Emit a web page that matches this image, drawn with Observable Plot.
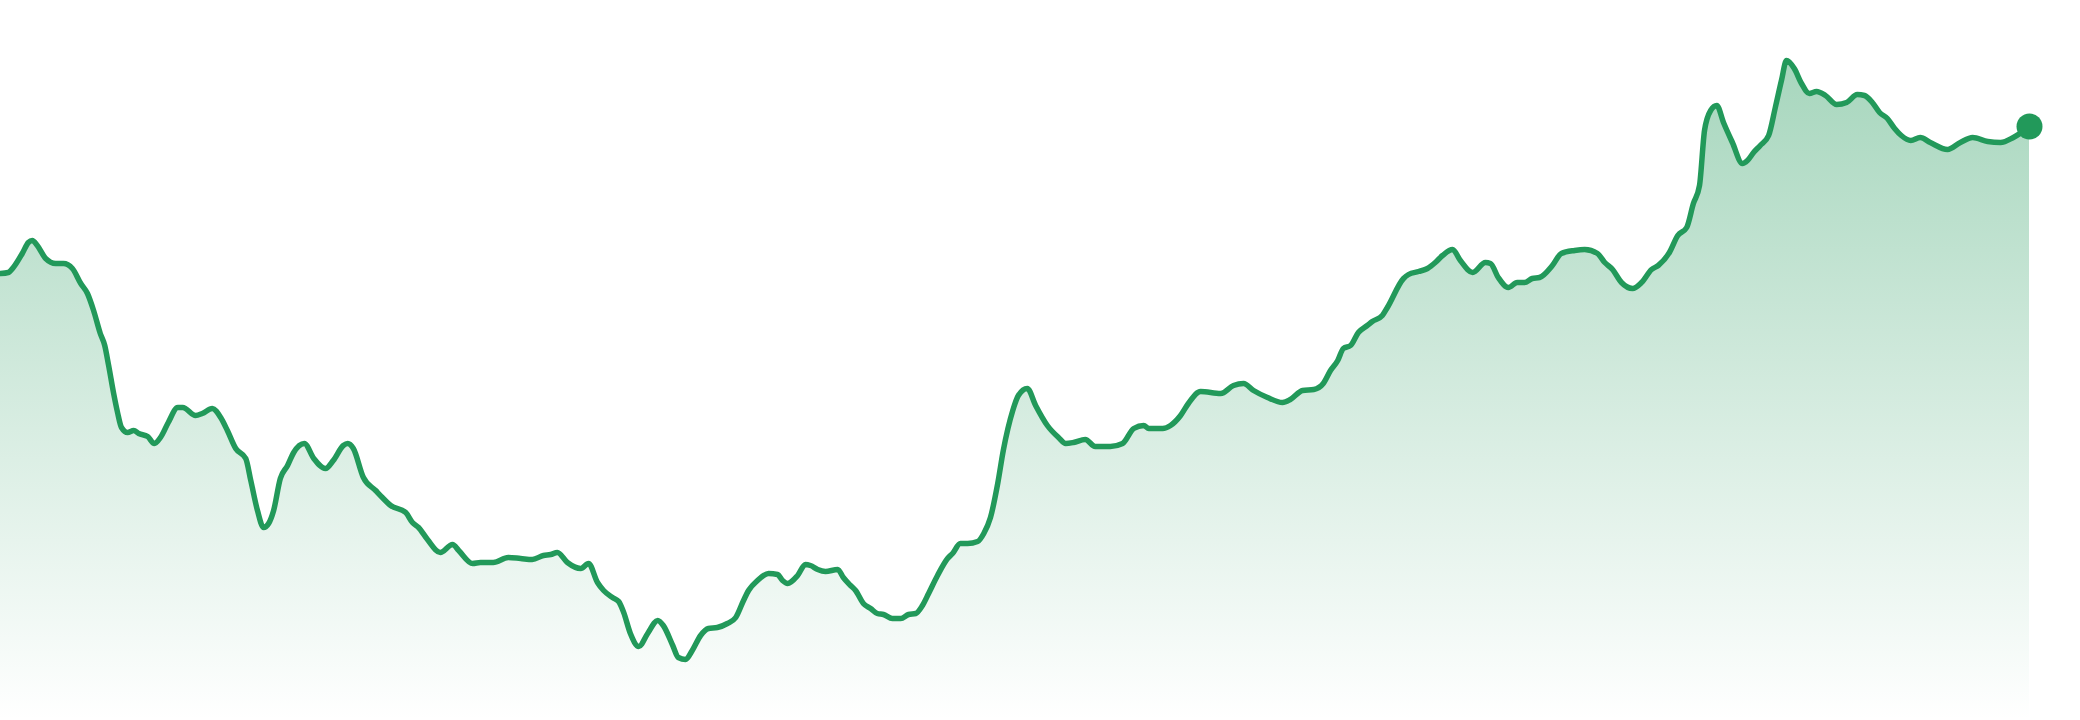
<!DOCTYPE html>
<html>
<head>
<meta charset="utf-8">
<script src="https://cdn.jsdelivr.net/npm/d3@7"></script>
<script src="https://cdn.jsdelivr.net/npm/@observablehq/plot@0.6"></script>
<style>
  html, body { margin: 0; padding: 0; background: #ffffff; }
  #chart svg { display: block; }
</style>
</head>
<body>
<div id="chart"></div>
<script>
// Day index over one year
const days = [
  0, 1.4, 2.3, 3.9, 5.0, 5.7, 6.6, 8.1, 9.9, 11.3, 12.9, 14.4, 15.6, 16.7, 17.9, 18.7, 19.4, 20.3, 21.0, 21.7,
  22.8, 23.9, 24.8, 26.4, 27.6, 28.7, 30.1, 31.8, 32.7, 35.0, 36.2, 38.0, 39.5, 40.7, 42.2, 44.0, 44.9, 46.1, 47.2, 48.1,
  49.0, 50.2, 51.5, 52.6, 54.5, 56.2, 58.3, 59.7, 61.5, 62.3, 63.3, 65.1, 67.3, 68.5, 70.0, 72.7, 73.9, 75.0, 76.6, 78.9,
  81.1, 82.2, 84.7, 86.1, 88.4, 91.1, 93.3, 95.4, 97.4, 98.7, 99.9, 101.7, 104.1, 105.5, 107.1, 108.2, 109.8, 110.9, 111.8, 113.0,
  114.5, 116.1, 117.9, 118.9, 120.6, 121.6, 122.9, 124.1, 125.6, 127.0, 128.6, 130.4, 131.9, 133.3, 134.2, 135.8, 137.8, 139.4, 140.3, 141.2,
  143.0, 144.4, 145.3, 146.6, 148.0, 150.2, 151.2, 152.5, 153.4, 154.8, 156.1, 157.3, 158.4, 160.0, 161.5, 162.9, 164.2, 165.4, 166.5, 168.1,
  169.9, 170.8, 172.2, 173.5, 175.3, 176.4, 177.6, 178.9, 179.9, 181.6, 182.6, 184.2, 185.7, 187.8, 189.8, 191.1, 192.5, 194.6, 196.4, 199.1,
  201.3, 203.3, 205.1, 206.0, 208.5, 209.9, 211.7, 213.1, 215.3, 218.9, 221.2, 223.0, 224.8, 227.3, 230.0, 231.4, 233.6, 235.6, 237.3, 238.6,
  239.9, 240.9, 242.2, 243.6, 245.2, 246.1, 247.9, 248.8, 251.7, 252.6, 254.4, 256.0, 257.4, 258.7, 260.5, 261.9, 264.1, 266.4, 267.3, 268.7,
  270.5, 272.1, 273.4, 274.8, 276.1, 278.4, 280.0, 282.4, 284.2, 286.5, 287.8, 289.2, 290.8, 292.8, 294.4, 296.2, 297.4, 299.4, 300.9, 302.5,
  303.7, 304.8, 305.7, 306.8, 307.9, 309.1, 310.7, 312.5, 313.4, 314.5, 315.7, 317.2, 318.4, 319.5, 320.4, 321.8, 323.1, 324.5, 325.8, 327.4,
  329.4, 331.2, 333.1, 334.4, 335.8, 337.1, 338.5, 339.8, 341.0, 342.7, 344.4, 346.2, 349.3, 351.6, 353.8, 356.5, 358.8, 361.1, 364.0
];

// Price (same order as days)
const prices = [
  44.7, 44.8, 45.3, 46.7, 47.8, 48.0, 47.5, 46.2, 45.7, 45.7, 45.2, 43.7, 42.7, 41.0, 38.7, 37.5, 35.5, 32.7, 30.8, 29.3,
  28.8, 29.0, 28.7, 28.4, 27.7, 28.3, 29.8, 31.3, 31.3, 30.5, 30.7, 31.2, 30.3, 29.0, 27.2, 26.2, 24.0, 21.0, 19.3, 19.7,
  21.0, 24.2, 25.5, 26.8, 27.7, 26.2, 25.2, 26.0, 27.5, 27.7, 27.2, 24.3, 23.0, 22.3, 21.5, 20.8, 19.8, 19.3, 18.1, 16.8,
  17.6, 17.0, 15.7, 15.8, 15.8, 16.3, 16.2, 16.1, 16.5, 16.6, 16.8, 15.8, 15.2, 15.7, 13.8, 13.0, 12.3, 11.9, 10.8, 8.7,
  7.4, 8.7, 10.0, 9.5, 7.5, 6.3, 6.1, 7.0, 8.5, 9.2, 9.3, 9.7, 10.3, 12.0, 13.0, 14.0, 14.7, 14.6, 14.0, 13.7,
  14.5, 15.6, 15.5, 15.1, 14.9, 15.1, 14.3, 13.5, 13.0, 11.7, 11.2, 10.7, 10.6, 10.2, 10.2, 10.6, 10.7, 11.5, 12.7, 14.5,
  16.2, 16.7, 17.7, 17.7, 17.9, 18.7, 20.3, 23.7, 27.0, 31.0, 32.5, 33.2, 31.5, 29.5, 28.3, 27.7, 27.8, 28.1, 27.4, 27.4,
  27.7, 29.2, 29.5, 29.2, 29.2, 29.5, 30.5, 31.7, 32.9, 32.7, 33.5, 33.7, 33.0, 32.3, 31.8, 32.1, 33.0, 33.1, 33.7, 35.0,
  36.0, 37.2, 37.5, 38.8, 39.5, 39.9, 40.5, 41.3, 44.2, 44.6, 44.9, 45.2, 45.8, 46.5, 47.1, 46.0, 44.8, 45.8, 45.7, 44.3,
  43.3, 43.8, 43.8, 44.2, 44.3, 45.5, 46.7, 47.0, 47.1, 46.7, 45.8, 45.1, 43.8, 43.2, 43.8, 45.1, 45.5, 46.8, 48.5, 49.3,
  51.7, 53.5, 59.0, 61.0, 61.5, 59.8, 57.8, 55.7, 56.0, 56.8, 57.5, 58.5, 61.3, 64.0, 66.0, 65.2, 63.7, 62.7, 62.9, 62.5,
  61.6, 61.8, 62.6, 62.5, 61.8, 60.8, 60.2, 59.2, 58.5, 58.0, 58.3, 57.8, 57.1, 57.8, 58.3, 57.9, 57.8, 58.3, 59.4
];

const yDomain = [0, 72];
const xDomain = [0, 364];

const n = Math.min(days.length, prices.length);
const data = d3.range(n).map(i => ({day: days[i], price: prices[i]}));
const last = data[data.length - 1];

const green = "#22995a";

const svg = Plot.plot({
  width: 2080,
  height: 720,
  marginTop: 0,
  marginBottom: 0,
  marginLeft: 0,
  marginRight: 51,
  x: {domain: xDomain, axis: null},
  y: {domain: yDomain, axis: null},
  style: {background: "#ffffff"},
  marks: [
    Plot.areaY(data, {x: "day", y: "price", fill: "url(#areaGrad)", curve: "monotone-x"}),
    Plot.lineY(data, {x: "day", y: "price", stroke: green, strokeWidth: 5.5, strokeLinejoin: "round", strokeLinecap: "round", curve: "monotone-x"}),
    Plot.dot([last], {x: "day", y: "price", r: 13, fill: green, stroke: "none"})
  ]
});

const defs = d3.select(svg).insert("defs", ":first-child");
const grad = defs.append("linearGradient")
  .attr("id", "areaGrad")
  .attr("x1", 0).attr("y1", 0).attr("x2", 0).attr("y2", 1);
grad.append("stop").attr("offset", "0%").attr("stop-color", green).attr("stop-opacity", 0.4);
grad.append("stop").attr("offset", "100%").attr("stop-color", green).attr("stop-opacity", 0.0);

document.getElementById("chart").appendChild(svg);
</script>
</body>
</html>
